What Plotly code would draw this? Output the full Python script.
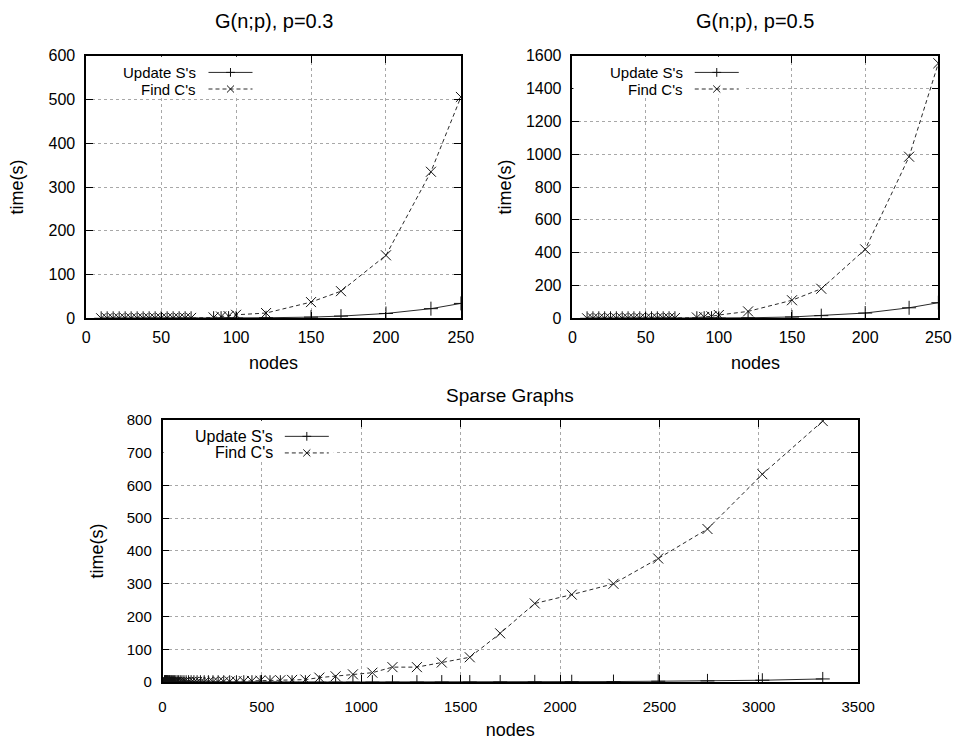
import plotly.graph_objects as go

W, H = 972, 740

# ---------------- data ----------------
nodes_dense = [10, 14, 18, 22, 26, 30, 34, 38, 42, 46, 50, 54, 58, 62, 66, 70,
               85, 90, 95, 100, 120, 150, 170, 200, 230, 250]
p03_find = [0.1, 0.1, 0.1, 0.1, 0.2, 0.2, 0.2, 0.3, 0.3, 0.4, 0.4, 0.5, 0.6, 0.7, 0.8, 0.9,
            2, 4, 5, 8, 12, 37, 62, 144, 335, 506]
p03_update = [0, 0, 0, 0, 0, 0, 0, 0, 0, 0, 0, 0, 0.1, 0.1, 0.1, 0.1,
              0.2, 0.3, 0.4, 0.5, 1.2, 2.7, 5, 11, 22, 34]
p05_find = [0.1, 0.1, 0.1, 0.2, 0.2, 0.3, 0.3, 0.4, 0.5, 0.6, 0.7, 0.8, 1, 1.2, 1.4, 1.6,
            5, 8, 12, 20, 42, 110, 180, 420, 985, 1555]
p05_update = [0, 0, 0, 0, 0, 0, 0, 0, 0, 0, 0.1, 0.1, 0.1, 0.1, 0.2, 0.2,
              0.4, 0.5, 0.7, 1, 3, 8, 16, 32, 64, 95]

sparse_nodes = [10, 12, 13, 15, 16, 18, 20, 22, 24, 26, 29, 32, 35, 38, 42, 46, 51, 56,
                61, 67, 74, 81, 89, 98, 108, 119, 131, 144, 158, 174, 191, 210, 231,
                254, 280, 308, 338, 372, 409, 450, 492, 541, 593, 652, 719, 789, 871,
                958, 1056, 1157, 1280, 1405, 1546, 1699, 1873, 2059, 2269, 2494, 2742,
                3018, 3322]
sparse_find = [0, 0, 0, 0, 0, 0, 0, 0, 0, 0, 0, 0, 0, 0, 0, 0, 0.1, 0.1,
               0.1, 0.1, 0.1, 0.2, 0.2, 0.2, 0.3, 0.3, 0.4, 0.5, 0.6, 0.7, 0.8, 1, 1.2,
               1.4, 1.7, 2, 2.4, 2.9, 3.4, 4, 5, 5, 6, 7, 8, 14, 18,
               24, 29, 46, 46, 60, 76, 149, 240, 267, 300, 377, 467,
               634, 796]
sparse_update = [0] * 46 + [0.1, 0.1, 0.2, 0.2, 0.3, 0.4, 0.5, 0.7, 1, 1.5, 2, 3, 4, 6, 10]

titles = ["G(n;p), p=0.3", "G(n;p), p=0.5", "Sparse Graphs"]
series_names = ["Update S's", "Find C's"]
x_label = "nodes"
y_label = "time(s)"
x_ticks_top = [0, 50, 100, 150, 200, 250]
y_ticks_l = [0, 100, 200, 300, 400, 500, 600]
y_ticks_r = [0, 200, 400, 600, 800, 1000, 1200, 1400, 1600]
x_ticks_b = [0, 500, 1000, 1500, 2000, 2500, 3000, 3500]
y_ticks_b = [0, 100, 200, 300, 400, 500, 600, 700, 800]

# ---------------- layout geometry (pixels) ----------------
def px(x):
    return x / W

def py(y):
    return 1 - y / H

panels = [
    dict(l=84, r=467, t=48, b=317, xr=[0, 250], yr=[0, 600], xt=x_ticks_top, yt=y_ticks_l,
         title_y=12, ystand=20, xlab=4, xstand=11, tfs=16, ttl=20),
    dict(l=581, r=955, t=48, b=317, xr=[0, 250], yr=[0, 1600], xt=x_ticks_top, yt=y_ticks_r,
         title_y=12, ystand=10, xlab=4, xstand=11, tfs=16, ttl=20),
    dict(l=162, r=873, t=421, b=690, xr=[0, 3500], yr=[0, 800], xt=x_ticks_b, yt=y_ticks_b,
         title_y=396, ystand=18, xlab=10, xstand=10, tfs=15, ttl=19),
]
datasets = [
    (nodes_dense, p03_update, p03_find),
    (nodes_dense, p05_update, p05_find),
    (sparse_nodes, sparse_update, sparse_find),
]

FONT = "Liberation Sans, Arial, Helvetica, sans-serif"
LINE_C = "#2a2a2a"
MARK_C = "#111111"

fig = go.Figure()
layout = dict(
    width=W, height=H, margin=dict(l=0, r=0, t=0, b=0),
    paper_bgcolor="white", plot_bgcolor="white", showlegend=False,
    font=dict(family=FONT, size=15, color="black"),
)
shapes = []
annotations = []

for i, (pn, (xs, upd, fnd)) in enumerate(zip(panels, datasets)):
    k = "" if i == 0 else str(i + 1)
    xa, ya = "x" + k, "y" + k
    axis_common = dict(
        showline=True, linecolor="black", linewidth=1.5, mirror="ticks",
        ticks="inside", ticklen=7, tickwidth=1.3, tickcolor="black",
        showgrid=True, gridcolor="#a8a8a8", griddash="dot", gridwidth=1,
        zeroline=False, tickfont=dict(size=pn["tfs"], family=FONT),
    )
    layout["xaxis" + k] = dict(
        axis_common, domain=[px(pn["l"]), px(pn["r"])], range=pn["xr"],
        tickvals=pn["xt"], anchor=ya, ticklabelstandoff=pn["xlab"],
        title=dict(text=x_label, font=dict(size=18), standoff=pn["xstand"]),
    )
    layout["yaxis" + k] = dict(
        axis_common, domain=[py(pn["b"]), py(pn["t"])], range=pn["yr"],
        tickvals=pn["yt"], anchor=xa, ticklabelstandoff=6,
        title=dict(text=y_label, font=dict(size=18), standoff=pn["ystand"]),
    )
    fig.add_trace(go.Scatter(
        x=xs, y=upd, xaxis=xa, yaxis=ya, mode="lines+markers", name=series_names[0],
        line=dict(color=LINE_C, width=1), cliponaxis=True,
        marker=dict(symbol="cross-thin", size=10, line=dict(color=MARK_C, width=1)),
    ))
    fig.add_trace(go.Scatter(
        x=xs, y=fnd, xaxis=xa, yaxis=ya, mode="lines+markers", name=series_names[1],
        line=dict(color=LINE_C, width=1, dash="4px,3px"), cliponaxis=True,
        marker=dict(symbol="x-thin", size=10, line=dict(color=MARK_C, width=1)),
    ))

    # title
    annotations.append(dict(
        text=titles[i], xref="paper", yref="paper",
        x=px((pn["l"] + pn["r"]) / 2), y=py(pn["title_y"]),
        xanchor="center", yanchor="middle", showarrow=False, font=dict(size=pn["ttl"]),
    ))

# ---------------- gnuplot-style keys ----------------
keys = [
    dict(text_r=198, l0=209, l1=254, y0=65, dy=17, box_r=258, box_b=88, pl=84, pt=48, fs=15),
    dict(text_r=696, l0=706, l1=751, y0=65, dy=17, box_r=756, box_b=88, pl=581, pt=48, fs=15),
    dict(text_r=277, l0=287, l1=332, y0=438, dy=17, box_r=337, box_b=462, pl=162, pt=421, fs=16),
]
for kd in keys:
    shapes.append(dict(type="rect", xref="paper", yref="paper",
                       x0=px(kd["pl"] + 1), x1=px(kd["box_r"]),
                       y0=py(kd["box_b"]), y1=py(kd["pt"] + 1),
                       fillcolor="white", line=dict(width=0), layer="above"))
    for j, name in enumerate(series_names):
        yy = kd["y0"] + j * kd["dy"]
        annotations.append(dict(
            text=name, xref="paper", yref="paper", x=px(kd["text_r"]), y=py(yy),
            xanchor="right", yanchor="middle", showarrow=False, font=dict(size=kd["fs"]),
        ))
        shapes.append(dict(type="line", xref="paper", yref="paper",
                           x0=px(kd["l0"]), x1=px(kd["l1"]), y0=py(yy), y1=py(yy),
                           line=dict(color=LINE_C, width=1, dash="solid" if j == 0 else "4px,3px"),
                           layer="above"))
        cx = (kd["l0"] + kd["l1"]) / 2
        s = 4.5
        if j == 0:
            segs = [((cx - s, yy), (cx + s, yy)), ((cx, yy - s), (cx, yy + s))]
        else:
            segs = [((cx - s * 0.8, yy - s * 0.8), (cx + s * 0.8, yy + s * 0.8)),
                    ((cx - s * 0.8, yy + s * 0.8), (cx + s * 0.8, yy - s * 0.8))]
        for (a, b) in segs:
            shapes.append(dict(type="line", xref="paper", yref="paper",
                               x0=px(a[0]), y0=py(a[1]), x1=px(b[0]), y1=py(b[1]),
                               line=dict(color=MARK_C, width=1), layer="above"))

layout["shapes"] = shapes
layout["annotations"] = annotations
fig.update_layout(**layout)
fig.write_html("out.html")
